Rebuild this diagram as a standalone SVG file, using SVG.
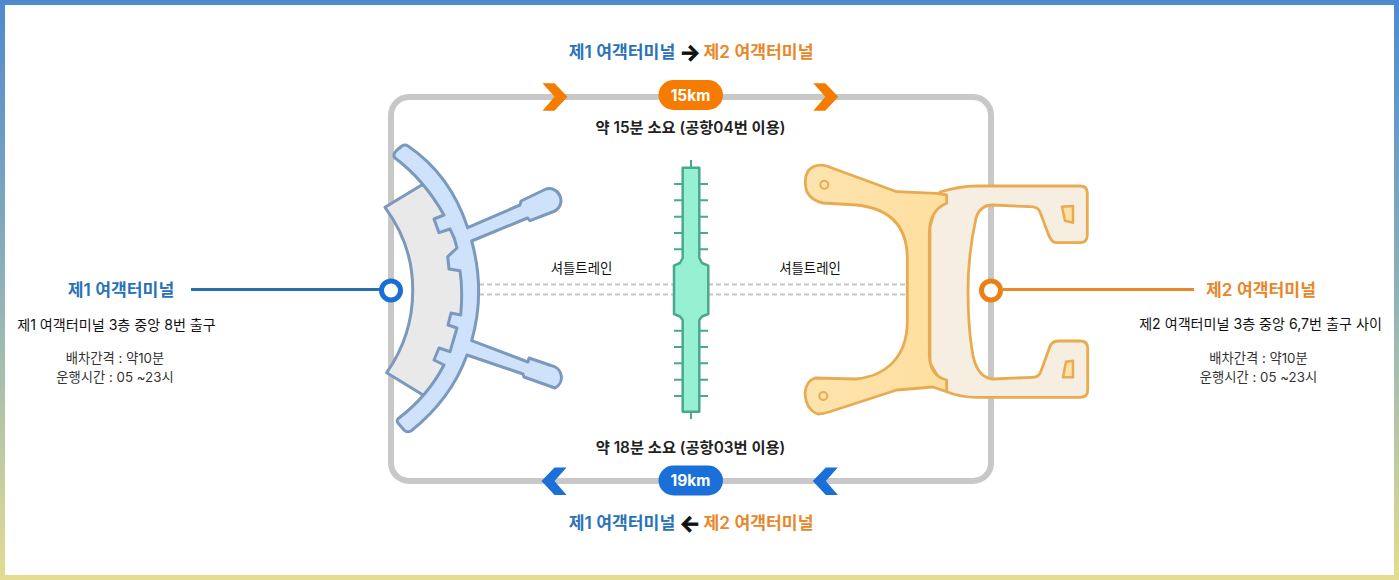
<svg xmlns="http://www.w3.org/2000/svg" width="1399" height="580" viewBox="0 0 1399 580">
<defs>
<linearGradient id="frame" x1="0" y1="0" x2="0" y2="1"><stop offset="0" stop-color="#4f8ad0"/><stop offset="0.5" stop-color="#8fb2b8"/><stop offset="1" stop-color="#e3dc92"/></linearGradient>
<linearGradient id="wing" x1="0" y1="0" x2="1" y2="0"><stop offset="0" stop-color="#fde4ae"/><stop offset="1" stop-color="#fedf9f"/></linearGradient>
<polygon id="chevR" points="0,0 12,0 25,13.500 12,27.500 0,27.500 12,13.500"/>
<polygon id="chevL" points="25,0 13,0 0,13.500 13,27.500 25,27.500 13,13.500"/>
</defs>
<style>
text{font-family:"Inter","Noto Sans CJK KR",sans-serif;text-anchor:middle}
.title{font-size:17.2px;font-weight:600}
.arrow{font-size:22px;font-weight:700;fill:#111;stroke:#111;stroke-width:0.900px}
.blue{fill:#2a72b8}.orange{fill:#e8872a}
.sub{font-size:15.300px;font-weight:600;fill:#222}
.body{font-size:14.100px;font-weight:400;fill:#111}
.info{font-size:13.300px;font-weight:400;fill:#333}
.small{font-size:13.400px;font-weight:400;fill:#111}
.km{font-size:15.500px;font-weight:700;fill:#fff}
.dash{stroke:#c6c6c6;stroke-width:2;stroke-dasharray:5 3;fill:none}
.tick{stroke:#4aa88e;stroke-width:2;fill:none}
.t1{stroke:#7b98bd;stroke-width:3;stroke-linejoin:round}
.t2{stroke:#e9ab52;stroke-width:2.800;stroke-linejoin:round}
</style>
<rect x="0" y="0" width="1399" height="580" fill="url(#frame)"/>
<rect x="5" y="5" width="1389" height="570" fill="#fff"/>

<g id="connectors">
<rect x="391" y="97" width="600" height="384" rx="18" fill="none" stroke="#c8c8c8" stroke-width="6"/>
<path class="dash" d="M479 284.500H674M479 294.500H674M708 284.500H907M708 294.500H907"/>
<path d="M191 289.500H380" stroke="#2a6db0" stroke-width="3" fill="none"/>
<path d="M1003 289.500H1194" stroke="#e8882a" stroke-width="3" fill="none"/>
<use href="#chevR" x="542.500" y="83.300" fill="#f57c00"/>
<use href="#chevR" x="813.300" y="83.300" fill="#f57c00"/>
<use href="#chevL" x="541.500" y="467.500" fill="#1a6fd8"/>
<use href="#chevL" x="812.800" y="467.500" fill="#1a6fd8"/>
</g>

<g id="terminal1">
<path class="t1" fill="#e9e9e9" d="M421.700 185L385 207.300Q413 245 412.700 290Q413 335 386.700 372.700L423 395L438 395L462 340L475 290L462 240L438 186Z"/>
<path class="t1" fill="#cfe2fb" d="M395 158Q392 155 397 150L402 146Q405 144 408 146C436 165 456 192 467.700 227.700L520 205L521 201L546 189A12 12 0 0 1 555 211L530 220.700L527.500 218L471.700 241C481 275 481 308 471.700 340.700L528 362L529 358L551 365.500A12 12 0 0 1 555 388L524 377L523 374L467 355C455 388 435 412 411 431Q407 433 404 430L398 423Q396 420 399 418C416 405 432 388 444 365L434 360L439 348L450 351.700L457 328L448 325L451 313L460.700 315Q463 290 460 270.700L449 269L447.700 256.700L457 248Q455 238 450 229L439 232.700L434 219L444 215C431 192 415 173 395 158Z"/>
<circle cx="391" cy="290.500" r="9.500" fill="#fff" stroke="#1a6fd4" stroke-width="5"/>
<text class="title blue" x="121" y="296">제1 여객터미널</text>
<text class="body" x="116.500" y="330">제1 여객터미널 3층 중앙 8번 출구</text>
<text class="info" x="115" y="363">배차간격 : 약10분</text>
<text class="info" x="115" y="382">운행시간 : 05 ~23시</text>
</g>

<g id="shuttle">
<path d="M691 160V168M691 411V419M674 184H683M674 200.300H683M674 216.700H683M674 233H683M674 249.300H683M674 330.700H683M674 347H683M674 363.300H683M674 379.700H683M674 396H683M699 184H708M699 200.300H708M699 216.700H708M699 233H708M699 249.300H708M699 330.700H708M699 347H708M699 363.300H708M699 379.700H708M699 396H708" class="tick"/>
<path fill="#96f0d2" stroke="#4aa88e" stroke-width="2.500" stroke-linejoin="round" d="M682.700 167.700H699.300V258L702 263L708.300 265.700V314L702 316.500L699.300 320V411.700H682.700V320L680 316.500L674 314V265.700L680 263L682.700 258Z"/>
<text class="small" x="581.500" y="273">셔틀트레인</text>
<text class="small" x="810" y="273">셔틀트레인</text>
</g>

<g id="terminal2">
<path class="t2" fill="#f6eee0" d="M940 192Q960 186 976.700 186H1080Q1087.300 186 1087.300 193V235Q1087.300 242.700 1080 242.700H1056.700Q1051 242.700 1048 233.300L1040 212Q1038 206.700 1030 206.700L993 205Q980 205 976 218Q968 255 968 290Q968 325 972 350Q976 378 993 379L1033 377.300Q1039 377 1041 371L1049 349Q1051 341 1058 341H1080Q1087.700 341 1087.700 348V390Q1087.700 397.300 1080 397.300H976.700Q960 397.300 946.700 391.700L930 363V226.700Z"/>
<path class="t2" fill="url(#wing)" d="M946.700 195L936.700 193.300L896.700 191.700L826.700 166Q815 163 808 171Q803 180 807 192Q812 201 823 203L856.700 205C885 208 907 222 907.300 258V322C907 358 885 376 856 379L815 378Q806 381 805 393Q806 410 818 414Q823 414 829 412L896.700 390L933 387L946.700 391.700V380Q930 376 929.300 355V232Q930 210 946.700 203.300Z"/>
<circle cx="824.300" cy="184.700" r="4" fill="#fde2a6" stroke="#e9ab52" stroke-width="2"/>
<circle cx="823.300" cy="396" r="4" fill="#fde2a6" stroke="#e9ab52" stroke-width="2"/>
<polygon points="1062,206.700 1073,206 1073,222.700 1065,220.700" fill="#fde2a6" stroke="#e9ab52" stroke-width="2.500" stroke-linejoin="round"/>
<polygon points="1066,361.700 1073,360.700 1073,377.300 1063,377.300" fill="#fde2a6" stroke="#e9ab52" stroke-width="2.500" stroke-linejoin="round"/>
<circle cx="991" cy="290.500" r="9.500" fill="#fff" stroke="#ee7f14" stroke-width="5"/>
<text class="title orange" x="1261" y="296">제2 여객터미널</text>
<text class="body" x="1260.500" y="329">제2 여객터미널 3층 중앙 6,7번 출구 사이</text>
<text class="info" x="1258.500" y="363">배차간격 : 약10분</text>
<text class="info" x="1258.500" y="382">운행시간 : 05 ~23시</text>
</g>

<g id="route-top">
<text class="title blue" x="622" y="58">제1 여객터미널</text>
<text class="arrow" x="690" y="60">→</text>
<text class="title orange" x="758.500" y="58">제2 여객터미널</text>
<rect x="658.500" y="80" width="64.500" height="30" rx="15" fill="#f57c00"/>
<text class="km" x="690.500" y="101">15km</text>
<text class="sub" x="690.500" y="133">약 15분 소요 (공항04번 이용)</text>
</g>
<g id="route-bottom">
<text class="sub" x="690.500" y="453">약 18분 소요 (공항03번 이용)</text>
<rect x="658.500" y="465.500" width="64.500" height="30" rx="15" fill="#1a6fd8"/>
<text class="km" x="690.500" y="486">19km</text>
<text class="title blue" x="622" y="529">제1 여객터미널</text>
<text class="arrow" x="690" y="531">←</text>
<text class="title orange" x="758.500" y="529">제2 여객터미널</text>
</g>
</svg>
